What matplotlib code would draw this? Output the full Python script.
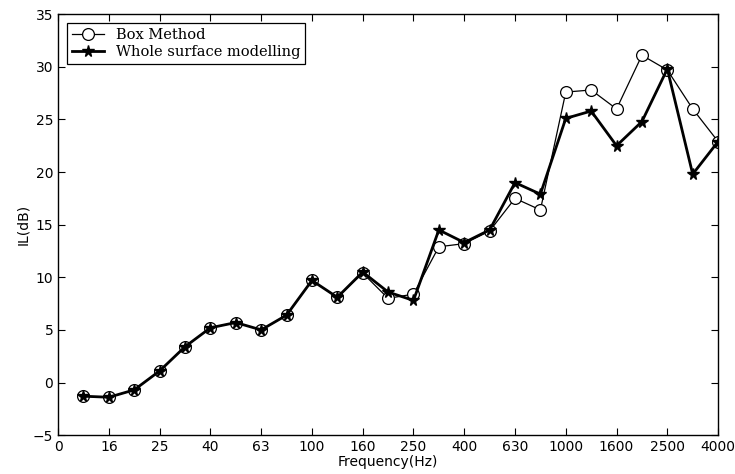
import numpy as np
import matplotlib
matplotlib.use("Agg")
import matplotlib.pyplot as plt

# third-octave band centre frequencies (Hz)
bands = ["12.5", "16", "20", "25", "31.5", "40", "50", "63", "80", "100", "125", "160",
         "200", "250", "315", "400", "500", "630", "800", "1000", "1250", "1600", "2000",
         "2500", "3150", "4000"]
box_method = [-1.3, -1.4, -0.7, 1.1, 3.4, 5.2, 5.7, 5.0, 6.4, 9.7, 8.1, 10.4,
              8.0, 8.4, 12.9, 13.2, 14.4, 17.5, 16.4, 27.6, 27.8, 26.0, 31.1,
              29.7, 26.0, 22.9]
whole_surface = [-1.3, -1.4, -0.7, 1.1, 3.4, 5.2, 5.7, 5.0, 6.4, 9.7, 8.1, 10.5,
                 8.6, 7.8, 14.5, 13.3, 14.5, 19.0, 17.9, 25.1, 25.8, 22.5, 24.8,
                 29.8, 19.8, 22.9]
tick_labels = ["0", "16", "25", "40", "63", "100", "160", "250", "400", "630",
               "1000", "1600", "2500", "4000"]


def main():
    plt.rcParams["font.family"] = ["DejaVu Sans"]
    fig = plt.figure(figsize=(7.35, 4.74), dpi=100)
    ax = fig.add_axes([0.079, 0.082, 0.898, 0.888])

    x = np.arange(1, len(bands) + 1)
    ax.plot(x, box_method, "-", color="black", lw=0.9, marker="o", ms=8.5,
            mfc="white", mec="black", mew=0.9, label="Box Method", zorder=2)
    ax.plot(x, whole_surface, "-", color="black", lw=2.0, marker="*", ms=8.5,
            mfc="black", mec="black", label="Whole surface modelling", zorder=3)

    ax.set_xlim(0, 26)
    ax.set_ylim(-5, 35)
    ax.set_xticks(np.arange(0, 27, 2))
    ax.set_xticklabels(tick_labels)
    ax.set_yticks(np.arange(-5, 36, 5))
    ax.tick_params(direction="in", top=True, right=True, length=5, labelsize=10,
                   width=0.8)
    for s in ax.spines.values():
        s.set_linewidth(1.0)

    ax.set_xlabel("Frequency(Hz)", fontsize=10, labelpad=1)
    ax.set_ylabel("IL(dB)", fontsize=10, labelpad=2)

    leg = ax.legend(loc="upper left", fancybox=False, edgecolor="black",
                    framealpha=1, borderaxespad=0.6, handlelength=2.2,
                    prop={"family": "DejaVu Serif", "size": 10.5},
                    borderpad=0.35, labelspacing=0.2)
    leg.get_frame().set_linewidth(0.9)

    fig.savefig("out.png", dpi=100)
    plt.close(fig)


if __name__ == "__main__":
    main()
